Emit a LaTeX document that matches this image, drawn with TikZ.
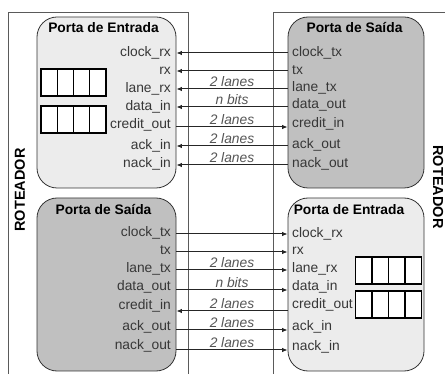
\documentclass[tikz,border=0pt]{standalone}
\usepackage{fontspec}
\setmainfont{Liberation Sans}
\usetikzlibrary{arrows.meta}
\definecolor{lightport}{RGB}{236,236,236}
\definecolor{darkport}{RGB}{192,192,192}
\definecolor{labelgray}{RGB}{55,55,55}
\definecolor{lanegray}{RGB}{85,85,85}
\definecolor{routerline}{RGB}{90,90,90}
\begin{document}
\begin{tikzpicture}[x=1pt,y=-1pt,
  port/.style={draw=black!80, line width=0.8pt, rounded corners=20pt, inner sep=0pt},
  sig/.style={font=\fontsize{13.8}{15}\selectfont, text=labelgray, inner sep=0pt},
  sigR/.style={sig, anchor=base east},
  sigL/.style={sig, anchor=base west},
  ptitle/.style={font=\fontsize{13.8}{15}\selectfont\bfseries, inner sep=0pt},
  router/.style={font=\fontsize{14.5}{16}\selectfont\bfseries, inner sep=0pt},
  wire/.style={line width=1pt, draw=black!85},
  arr/.style={-{Latex[length=5.5pt,width=4.5pt]}},
  lane/.style={font=\fontsize{13.8}{15}\selectfont\itshape, text=lanegray, inner sep=0pt, anchor=base, pos=0.5, yshift=2pt},
  cell/.style={draw=black, line width=1.2pt, fill=white, minimum width=16.25pt, minimum height=27pt, inner sep=0pt}
]
\useasboundingbox (0,0) rectangle (445,374);
% routers
\draw[routerline, line width=0.8pt] (8,374) -- (8,12) -- (188,12) -- (188,374);
\draw[routerline, line width=0.8pt] (446,12) -- (273,12) -- (273,374);
\node[router, rotate=90] (rL) at (20,190) {ROTEADOR};
\node[router, rotate=-90] (rR) at (438,187) {ROTEADOR};
% ports
\node[port, fill=lightport, minimum width=139pt, minimum height=171pt] (TL) at (106.5,102.5) {};
\node[port, fill=darkport, minimum width=136pt, minimum height=171pt] (TR) at (356,102.5) {};
\node[port, fill=darkport, minimum width=139pt, minimum height=173pt] (BL) at (106.5,284.5) {};
\node[port, fill=lightport, minimum width=136pt, minimum height=173pt] (BR) at (356,284.5) {};
% titles
\node[ptitle] (TLt) at (103.5,28) {Porta de Entrada};
\node[ptitle] (TRt) at (354.5,28) {Porta de Saída};
\node[ptitle] (BLt) at (103.5,210) {Porta de Saída};
\node[ptitle] (BRt) at (349,210) {Porta de Entrada};
% buffers
\foreach \i in {0,...,3}{
  \node[cell] (ta\i) at ({41+8.125+16.25*\i},82.5) {};
  \node[cell] (tb\i) at ({41+8.125+16.25*\i},119.5) {};
  \node[cell] (ba\i) at ({355+8.375+16.75*\i},270.5) {};
  \node[cell] (bb\i) at ({355+8.375+16.75*\i},304.5) {};
}
% top-left labels
\node[sigR] (l1) at (171,56.5) {clock\_rx};
\node[sigR] (l2) at (171,74.5) {rx};
\node[sigR] (l3) at (171,92.5) {lane\_rx};
\node[sigR] (l4) at (171,110.5) {data\_in};
\node[sigR] (l5) at (171,129) {credit\_out};
\node[sigR] (l6) at (171,149.5) {ack\_in};
\node[sigR] (l7) at (171,167.5) {nack\_in};
% top-right labels
\node[sigL] (r1) at (292,56.5) {clock\_tx};
\node[sigL] (r2) at (292,74.5) {tx};
\node[sigL] (r3) at (292,92) {lane\_tx};
\node[sigL] (r4) at (292,109) {data\_out};
\node[sigL] (r5) at (292,128) {credit\_in};
\node[sigL] (r6) at (292,149) {ack\_out};
\node[sigL] (r7) at (292,168) {nack\_out};
% bottom-left labels
\node[sigR] (bl1) at (171,236.5) {clock\_tx};
\node[sigR] (bl2) at (171,254.5) {tx};
\node[sigR] (bl3) at (171,272.5) {lane\_tx};
\node[sigR] (bl4) at (171,290.5) {data\_out};
\node[sigR] (bl5) at (171,309.5) {credit\_in};
\node[sigR] (bl6) at (171,330.5) {ack\_out};
\node[sigR] (bl7) at (171,349.5) {nack\_out};
% bottom-right labels
\node[sigL] (br1) at (292,237.5) {clock\_rx};
\node[sigL] (br2) at (292,254.5) {rx};
\node[sigL] (br3) at (292,272.5) {lane\_rx};
\node[sigL] (br4) at (292,290.5) {data\_in};
\node[sigL] (br5) at (292,308.5) {credit\_out};
\node[sigL] (br6) at (292,330.5) {ack\_in};
\node[sigL] (br7) at (292,350.5) {nack\_in};
% wire levels
\coordinate (y1) at (0,53);
\coordinate (y2) at (0,71);
\coordinate (y3) at (0,89);
\coordinate (y4) at (0,107);
\coordinate (y5) at (0,127);
\coordinate (y6) at (0,146);
\coordinate (y7) at (0,165);
\coordinate (z1) at (0,234);
\coordinate (z2) at (0,252);
\coordinate (z3) at (0,270);
\coordinate (z4) at (0,290);
\coordinate (z5) at (0,311);
\coordinate (z6) at (0,330);
\coordinate (z7) at (0,350);
% top wires
\draw[wire, arr] (TR.west |- y1) -- (TL.east |- y1);
\draw[wire, arr] (TR.west |- y2) -- (TL.east |- y2);
\draw[wire, arr] (TR.west |- y3) -- node[lane] (n3) {2 lanes} (TL.east |- y3);
\draw[wire, arr] (TR.west |- y4) -- node[lane] (n4) {n bits} (TL.east |- y4);
\draw[wire, arr] (TL.east |- y5) -- node[lane] (n5) {2 lanes} (TR.west |- y5);
\draw[wire, arr] (TR.west |- y6) -- node[lane] (n6) {2 lanes} (TL.east |- y6);
\draw[wire, arr] (TR.west |- y7) -- node[lane] (n7) {2 lanes} (TL.east |- y7);
% bottom wires
\draw[wire, arr] (BL.east |- z1) -- (BR.west |- z1);
\draw[wire, arr] (BL.east |- z2) -- (BR.west |- z2);
\draw[wire, arr] (BL.east |- z3) -- node[lane] (m3) {2 lanes} (BR.west |- z3);
\draw[wire, arr] (BL.east |- z4) -- node[lane] (m4) {n bits} (BR.west |- z4);
\draw[wire, arr] (BR.west |- z5) -- node[lane] (m5) {2 lanes} (BL.east |- z5);
\draw[wire, arr] (BL.east |- z6) -- node[lane] (m6) {2 lanes} (BR.west |- z6);
\draw[wire, arr] (BL.east |- z7) -- node[lane] (m7) {2 lanes} (BR.west |- z7);
\end{tikzpicture}
\end{document}
